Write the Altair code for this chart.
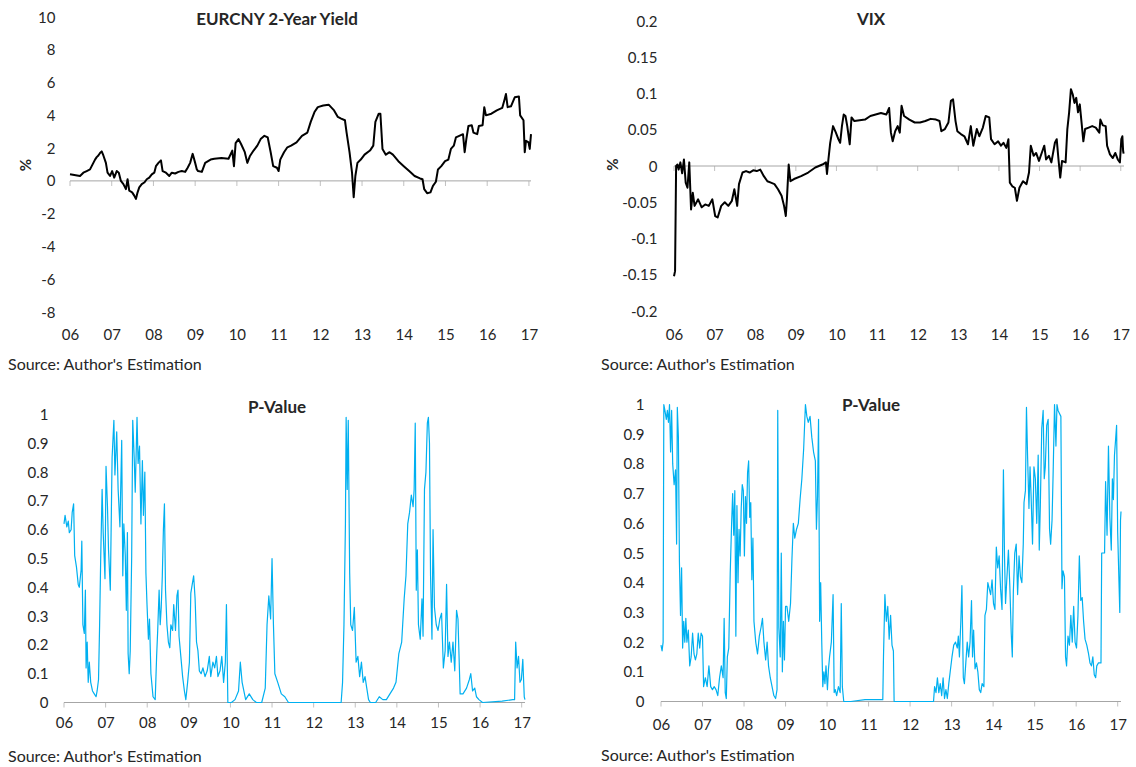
import altair as alt
import pandas as pd

# ---------------- data ----------------
YEAR_TICKS = list(range(2006, 2018))
YEAR_LABELS = ["06", "07", "08", "09", "10", "11", "12", "13", "14", "15", "16", "17"]

EUR_T = [2006.00, 2006.24, 2006.32, 2006.40, 2006.48, 2006.52, 2006.56, 2006.60, 2006.64, 2006.68,
         2006.72, 2006.76, 2006.80, 2006.86, 2006.90, 2006.96, 2007.01, 2007.06, 2007.12, 2007.17,
         2007.22, 2007.28, 2007.34, 2007.38, 2007.42, 2007.49, 2007.54, 2007.58, 2007.62, 2007.66,
         2007.72, 2007.78, 2007.84, 2007.90, 2007.96, 2008.02, 2008.06, 2008.12, 2008.18, 2008.22,
         2008.30, 2008.38, 2008.44, 2008.52, 2008.60, 2008.68, 2008.76, 2008.82, 2008.88, 2008.94,
         2009.00, 2009.04, 2009.07, 2009.16, 2009.24, 2009.37, 2009.46, 2009.63, 2009.80, 2009.89,
         2009.93, 2009.97, 2010.04, 2010.10, 2010.19, 2010.25, 2010.31, 2010.40, 2010.49, 2010.57,
         2010.66, 2010.74, 2010.81, 2010.87, 2010.96, 2011.00, 2011.04, 2011.13, 2011.21, 2011.30,
         2011.43, 2011.56, 2011.69, 2011.77, 2011.86, 2011.94, 2012.07, 2012.20, 2012.33, 2012.42,
         2012.50, 2012.59, 2012.63, 2012.70, 2012.76, 2012.80, 2012.84, 2012.89, 2012.97, 2013.06,
         2013.19, 2013.27, 2013.32, 2013.40, 2013.44, 2013.49, 2013.57, 2013.66, 2013.74, 2013.87,
         2014.00, 2014.13, 2014.26, 2014.39, 2014.45, 2014.49, 2014.56, 2014.64, 2014.70, 2014.77,
         2014.82, 2014.90, 2014.99, 2015.07, 2015.13, 2015.20, 2015.25, 2015.33, 2015.42, 2015.46,
         2015.50, 2015.55, 2015.63, 2015.67, 2015.76, 2015.80, 2015.89, 2015.93, 2015.97, 2016.10,
         2016.23, 2016.36, 2016.42, 2016.45, 2016.49, 2016.57, 2016.66, 2016.76, 2016.79, 2016.87,
         2016.90, 2016.93, 2016.99, 2017.02, 2017.05]
EUR_V = [0.4, 0.3, 0.5, 0.6, 0.7, 0.9, 1.1, 1.3, 1.45, 1.55,
         1.7, 1.8, 1.55, 1.1, 0.5, 0.3, 0.6, 0.2, 0.6, 0.5,
         0.0, -0.2, -0.5, 0.1, -0.6, -0.7, -0.9, -1.1, -0.7, -0.4,
         -0.2, -0.1, 0.1, 0.2, 0.4, 0.5, 0.9, 1.1, 1.25, 0.6,
         0.5, 0.3, 0.5, 0.45, 0.55, 0.6, 0.55, 0.8, 1.1, 1.65,
         1.1, 0.7, 0.6, 0.55, 1.1, 1.3, 1.35, 1.4, 1.35, 1.85,
         0.9, 2.3, 2.55, 2.25, 1.75, 1.1, 1.5, 1.85, 2.15, 2.55,
         2.75, 2.65, 1.75, 0.9, 0.8, 0.6, 1.3, 1.75, 2.05, 2.15,
         2.35, 2.75, 2.95, 3.6, 4.2, 4.5, 4.6, 4.65, 4.3, 3.9,
         3.8, 3.7, 2.95, 1.75, 0.5, -1.0, 0.3, 1.1, 1.3, 1.6,
         1.85, 2.15, 3.6, 4.1, 4.1, 1.95, 1.6, 1.75, 1.6, 1.2,
         0.9, 0.6, 0.3, 0.15, 0.1, -0.5, -0.75, -0.7, -0.3, -0.05,
         0.7, 0.9, 1.2, 1.3, 1.95, 2.15, 2.65, 2.75, 2.85, 1.75,
         2.55, 3.35, 3.4, 2.95, 2.85, 3.35, 3.4, 4.5, 4.0, 4.1,
         4.3, 4.45, 5.0, 5.3, 4.5, 4.55, 5.1, 5.15, 4.0, 3.7,
         1.75, 2.45, 2.35, 1.95, 2.85]

VIX_T = [2006.000, 2006.026, 2006.052, 2006.087, 2006.114, 2006.157, 2006.201, 2006.245, 2006.288, 2006.332,
         2006.376, 2006.420, 2006.463, 2006.507, 2006.594, 2006.682, 2006.769, 2006.857, 2006.944, 2007.014,
         2007.075, 2007.163, 2007.250, 2007.337, 2007.425, 2007.486, 2007.556, 2007.600, 2007.687, 2007.774,
         2007.862, 2007.949, 2008.037, 2008.124, 2008.212, 2008.299, 2008.386, 2008.474, 2008.561, 2008.649,
         2008.710, 2008.753, 2008.780, 2008.824, 2008.867, 2008.955, 2009.129, 2009.304, 2009.479, 2009.654,
         2009.741, 2009.767, 2009.802, 2009.846, 2009.916, 2009.986, 2010.047, 2010.091, 2010.135, 2010.178,
         2010.222, 2010.266, 2010.327, 2010.371, 2010.441, 2010.572, 2010.703, 2010.834, 2010.965, 2011.096,
         2011.227, 2011.297, 2011.341, 2011.385, 2011.446, 2011.507, 2011.559, 2011.603, 2011.664, 2011.795,
         2011.927, 2012.058, 2012.189, 2012.320, 2012.451, 2012.538, 2012.582, 2012.670, 2012.757, 2012.818,
         2012.871, 2012.932, 2012.976, 2013.063, 2013.150, 2013.238, 2013.308, 2013.369, 2013.456, 2013.517,
         2013.605, 2013.675, 2013.762, 2013.806, 2013.893, 2013.981, 2014.051, 2014.112, 2014.182, 2014.234,
         2014.269, 2014.330, 2014.392, 2014.444, 2014.505, 2014.593, 2014.680, 2014.741, 2014.785, 2014.855,
         2014.916, 2014.986, 2015.073, 2015.117, 2015.161, 2015.231, 2015.292, 2015.379, 2015.423, 2015.467,
         2015.510, 2015.554, 2015.642, 2015.685, 2015.729, 2015.773, 2015.817, 2015.860, 2015.904, 2015.948,
         2015.991, 2016.035, 2016.079, 2016.122, 2016.210, 2016.297, 2016.385, 2016.472, 2016.498, 2016.559,
         2016.629, 2016.664, 2016.734, 2016.804, 2016.865, 2016.927, 2016.979, 2017.014, 2017.040, 2017.058,
         2017.070]
VIX_V = [-0.152, -0.145, 0.0, 0.002, -0.005, 0.005, -0.01, 0.009, -0.023, -0.03,
         0.005, -0.06, -0.037, -0.055, -0.046, -0.057, -0.053, -0.055, -0.046, -0.069,
         -0.071, -0.055, -0.05, -0.055, -0.048, -0.032, -0.055, -0.025, -0.009, -0.007,
         -0.009, -0.006, -0.007, -0.005, -0.014, -0.021, -0.023, -0.025, -0.032, -0.041,
         -0.055, -0.069, -0.046, 0.002, -0.021, -0.018, -0.014, -0.009, -0.002, 0.002,
         0.005, -0.011, 0.009, 0.032, 0.055, 0.046, 0.037, 0.032, 0.055, 0.071,
         0.069, 0.055, 0.03, 0.067, 0.062, 0.063, 0.064, 0.069, 0.071, 0.073,
         0.071, 0.08, 0.046, 0.034, 0.048, 0.055, 0.046, 0.083, 0.069, 0.064,
         0.06, 0.06, 0.062, 0.065, 0.064, 0.062, 0.048, 0.051, 0.06, 0.09,
         0.092, 0.062, 0.048, 0.044, 0.041, 0.03, 0.055, 0.028, 0.051, 0.041,
         0.053, 0.069, 0.067, 0.037, 0.03, 0.034, 0.028, 0.032, 0.025, 0.037,
         -0.023, -0.028, -0.03, -0.048, -0.03, -0.021, -0.025, -0.009, 0.028, 0.014,
         0.018, 0.007, 0.021, 0.028, 0.009, 0.014, 0.005, 0.032, 0.037, 0.009,
         -0.016, 0.007, 0.005, 0.051, 0.074, 0.106, 0.099, 0.087, 0.094, 0.074,
         0.085, 0.06, 0.034, 0.051, 0.053, 0.055, 0.053, 0.046, 0.064, 0.056,
         0.055, 0.028, 0.016, 0.011, 0.018, 0.009, 0.005, 0.037, 0.041, 0.021,
         0.017]

PV1_T = [2006.000, 2006.026, 2006.068, 2006.103, 2006.128, 2006.171, 2006.197, 2006.231, 2006.257, 2006.300,
         2006.342, 2006.368, 2006.411, 2006.428, 2006.454, 2006.488, 2006.514, 2006.531, 2006.557, 2006.582,
         2006.608, 2006.642, 2006.685, 2006.728, 2006.771, 2006.796, 2006.830, 2006.856, 2006.882, 2006.916,
         2006.942, 2006.985, 2007.010, 2007.045, 2007.070, 2007.113, 2007.156, 2007.199, 2007.224, 2007.267,
         2007.301, 2007.344, 2007.387, 2007.413, 2007.438, 2007.473, 2007.498, 2007.524, 2007.541, 2007.567,
         2007.592, 2007.627, 2007.652, 2007.687, 2007.712, 2007.755, 2007.781, 2007.815, 2007.849, 2007.884,
         2007.909, 2007.943, 2007.969, 2007.995, 2008.029, 2008.055, 2008.089, 2008.140, 2008.192, 2008.226,
         2008.252, 2008.286, 2008.312, 2008.337, 2008.363, 2008.389, 2008.414, 2008.440, 2008.474, 2008.509,
         2008.543, 2008.568, 2008.611, 2008.637, 2008.680, 2008.714, 2008.740, 2008.765, 2008.808, 2008.851,
         2008.894, 2008.928, 2008.971, 2009.014, 2009.048, 2009.082, 2009.116, 2009.151, 2009.185, 2009.219,
         2009.253, 2009.296, 2009.339, 2009.390, 2009.442, 2009.493, 2009.527, 2009.579, 2009.622, 2009.664,
         2009.699, 2009.750, 2009.793, 2009.836, 2009.878, 2009.904, 2009.938, 2010.024, 2010.110, 2010.195,
         2010.238, 2010.281, 2010.366, 2010.452, 2010.538, 2010.623, 2010.752, 2010.837, 2010.880, 2010.923,
         2010.966, 2011.000, 2011.034, 2011.068, 2011.137, 2011.223, 2011.308, 2011.394, 2012.661, 2012.695,
         2012.729, 2012.764, 2012.781, 2012.807, 2012.832, 2012.866, 2012.892, 2012.935, 2012.978, 2013.021,
         2013.063, 2013.106, 2013.149, 2013.192, 2013.235, 2013.277, 2013.320, 2013.363, 2013.491, 2013.577,
         2013.663, 2013.748, 2013.834, 2013.920, 2013.979, 2014.048, 2014.116, 2014.176, 2014.219, 2014.262,
         2014.305, 2014.348, 2014.390, 2014.416, 2014.442, 2014.467, 2014.493, 2014.519, 2014.562, 2014.604,
         2014.630, 2014.664, 2014.699, 2014.733, 2014.758, 2014.784, 2014.810, 2014.844, 2014.870, 2014.904,
         2014.947, 2014.990, 2015.033, 2015.075, 2015.118, 2015.161, 2015.195, 2015.229, 2015.264, 2015.307,
         2015.349, 2015.392, 2015.435, 2015.469, 2015.521, 2015.589, 2015.675, 2015.743, 2015.777, 2015.820,
         2015.872, 2015.913, 2015.973, 2016.060, 2016.531, 2016.788, 2016.830, 2016.856, 2016.890, 2016.925,
         2016.959, 2016.993, 2017.027, 2017.062, 2017.079]
PV1_V = [0.62, 0.65, 0.61, 0.63, 0.59, 0.60, 0.66, 0.69, 0.51, 0.47,
         0.41, 0.40, 0.46, 0.56, 0.27, 0.24, 0.39, 0.12, 0.21, 0.07,
         0.14, 0.07, 0.04, 0.03, 0.02, 0.04, 0.08, 0.27, 0.50, 0.74,
         0.59, 0.43, 0.82, 0.68, 0.53, 0.39, 0.85, 0.98, 0.79, 0.94,
         0.74, 0.61, 0.91, 0.44, 0.62, 0.51, 0.32, 0.59, 0.17, 0.10,
         0.18, 0.51, 0.98, 0.85, 0.73, 0.99, 0.83, 0.89, 0.62, 0.84,
         0.65, 0.80, 0.45, 0.34, 0.22, 0.29, 0.10, 0.02, 0.01, 0.16,
         0.25, 0.39, 0.27, 0.33, 0.44, 0.60, 0.69, 0.39, 0.27, 0.21,
         0.19, 0.27, 0.25, 0.34, 0.25, 0.37, 0.39, 0.23, 0.16, 0.09,
         0.04, 0.01, 0.07, 0.14, 0.38, 0.41, 0.44, 0.36, 0.21, 0.18,
         0.11, 0.10, 0.12, 0.09, 0.11, 0.16, 0.09, 0.14, 0.12, 0.16,
         0.09, 0.11, 0.16, 0.07, 0.14, 0.34, 0.0, 0.0, 0.01, 0.04,
         0.14, 0.07, 0.01, 0.03, 0.01, 0.0, 0.0, 0.05, 0.27, 0.37,
         0.29, 0.50, 0.27, 0.10, 0.07, 0.03, 0.02, 0.0, 0.0, 0.07,
         0.27, 0.62, 0.99, 0.74, 0.98, 0.45, 0.27, 0.25, 0.33, 0.14,
         0.16, 0.09, 0.14, 0.07, 0.09, 0.05, 0.01, 0.0, 0.0, 0.02,
         0.01, 0.01, 0.03, 0.05, 0.07, 0.17, 0.21, 0.36, 0.44, 0.62,
         0.66, 0.72, 0.68, 0.74, 0.97, 0.39, 0.53, 0.27, 0.22, 0.36,
         0.23, 0.74, 0.80, 0.97, 0.99, 0.90, 0.44, 0.22, 0.60, 0.33,
         0.27, 0.25, 0.29, 0.31, 0.12, 0.18, 0.41, 0.16, 0.21, 0.14,
         0.21, 0.11, 0.32, 0.29, 0.03, 0.03, 0.05, 0.08, 0.10, 0.04,
         0.05, 0.02, 0.01, 0.0, 0.005, 0.01, 0.01, 0.21, 0.12, 0.16,
         0.07, 0.08, 0.15, 0.02, 0.01]

PV2_T = [2006.000, 2006.026, 2006.051, 2006.068, 2006.094, 2006.128, 2006.154, 2006.179, 2006.205, 2006.231,
         2006.256, 2006.282, 2006.316, 2006.350, 2006.376, 2006.393, 2006.419, 2006.444, 2006.470, 2006.496,
         2006.521, 2006.547, 2006.573, 2006.598, 2006.624, 2006.658, 2006.692, 2006.726, 2006.761, 2006.795,
         2006.829, 2006.863, 2006.897, 2006.932, 2006.966, 2007.000, 2007.026, 2007.068, 2007.111, 2007.154,
         2007.197, 2007.239, 2007.282, 2007.325, 2007.368, 2007.410, 2007.453, 2007.496, 2007.521, 2007.547,
         2007.573, 2007.598, 2007.632, 2007.667, 2007.701, 2007.726, 2007.752, 2007.778, 2007.803, 2007.829,
         2007.855, 2007.880, 2007.906, 2007.932, 2007.957, 2007.983, 2008.009, 2008.034, 2008.060, 2008.085,
         2008.111, 2008.137, 2008.162, 2008.188, 2008.214, 2008.239, 2008.282, 2008.325, 2008.368, 2008.410,
         2008.444, 2008.479, 2008.521, 2008.556, 2008.590, 2008.632, 2008.675, 2008.718, 2008.761, 2008.795,
         2008.812, 2008.838, 2008.872, 2008.897, 2008.923, 2008.949, 2008.974, 2009.000, 2009.034, 2009.077,
         2009.120, 2009.154, 2009.188, 2009.222, 2009.265, 2009.308, 2009.350, 2009.393, 2009.436, 2009.479,
         2009.513, 2009.547, 2009.590, 2009.632, 2009.675, 2009.718, 2009.744, 2009.769, 2009.795, 2009.821,
         2009.846, 2009.872, 2009.897, 2009.923, 2009.949, 2009.974, 2010.009, 2010.034, 2010.060, 2010.103,
         2010.145, 2010.171, 2010.197, 2010.231, 2010.274, 2010.316, 2010.342, 2010.368, 2010.402, 2010.573,
         2010.915, 2011.342, 2011.359, 2011.393, 2011.427, 2011.462, 2011.496, 2011.530, 2011.564, 2011.598,
         2011.615, 2012.026, 2012.564, 2012.590, 2012.624, 2012.658, 2012.692, 2012.726, 2012.761, 2012.795,
         2012.829, 2012.863, 2012.897, 2012.932, 2012.966, 2013.009, 2013.051, 2013.094, 2013.137, 2013.162,
         2013.188, 2013.222, 2013.248, 2013.282, 2013.308, 2013.342, 2013.376, 2013.410, 2013.444, 2013.479,
         2013.504, 2013.530, 2013.564, 2013.598, 2013.632, 2013.667, 2013.701, 2013.735, 2013.778, 2013.803,
         2013.838, 2013.872, 2013.906, 2013.940, 2013.974, 2014.009, 2014.043, 2014.077, 2014.111, 2014.145,
         2014.179, 2014.214, 2014.248, 2014.274, 2014.299, 2014.333, 2014.368, 2014.402, 2014.436, 2014.462,
         2014.487, 2014.521, 2014.556, 2014.590, 2014.624, 2014.658, 2014.692, 2014.726, 2014.744, 2014.778,
         2014.803, 2014.829, 2014.863, 2014.889, 2014.915, 2014.949, 2014.983, 2015.017, 2015.051, 2015.085,
         2015.111, 2015.137, 2015.171, 2015.205, 2015.231, 2015.256, 2015.291, 2015.325, 2015.359, 2015.385,
         2015.419, 2015.444, 2015.479, 2015.513, 2015.538, 2015.564, 2015.598, 2015.632, 2015.658, 2015.684,
         2015.718, 2015.744, 2015.769, 2015.803, 2015.838, 2015.872, 2015.906, 2015.940, 2015.974, 2016.009,
         2016.043, 2016.077, 2016.111, 2016.145, 2016.179, 2016.214, 2016.256, 2016.299, 2016.333, 2016.368,
         2016.402, 2016.436, 2016.470, 2016.496, 2016.538, 2016.598, 2016.615, 2016.684, 2016.709, 2016.744,
         2016.778, 2016.812, 2016.846, 2016.872, 2016.897, 2016.923, 2016.949, 2016.974, 2017.000, 2017.026,
         2017.051, 2017.068, 2017.080]
PV2_V = [0.19, 0.17, 0.20, 1.0, 0.98, 0.95, 0.98, 0.94, 1.0, 0.84,
         0.98, 0.80, 0.73, 0.78, 0.53, 0.99, 0.89, 0.47, 0.29, 0.45,
         0.18, 0.27, 0.20, 0.28, 0.20, 0.24, 0.12, 0.15, 0.23, 0.16,
         0.14, 0.16, 0.23, 0.18, 0.23, 0.22, 0.05, 0.08, 0.05, 0.12,
         0.05, 0.04, 0.05, 0.04, 0.02, 0.08, 0.12, 0.08, 0.28, 0.03,
         0.01, 0.15, 0.18, 0.43, 0.60, 0.70, 0.56, 0.71, 0.22, 0.66,
         0.40, 0.58, 0.49, 0.65, 0.73, 0.71, 0.49, 0.69, 0.60, 0.77,
         0.81, 0.62, 0.67, 0.41, 0.55, 0.27, 0.20, 0.16, 0.22, 0.25,
         0.28, 0.20, 0.14, 0.20, 0.12, 0.08, 0.05, 0.02, 0.01, 0.04,
         0.98, 0.25, 0.15, 0.50, 0.10, 0.27, 0.14, 0.32, 0.32, 0.27,
         0.33, 0.48, 0.60, 0.55, 0.58, 0.60, 0.68, 0.75, 0.85, 1.0,
         0.96, 0.94, 0.96, 0.89, 0.84, 0.81, 0.58, 0.69, 0.95, 0.27,
         0.40, 0.20, 0.05, 0.10, 0.06, 0.12, 0.04, 0.11, 0.15, 0.20,
         0.36, 0.03, 0.04, 0.02, 0.05, 0.03, 0.33, 0.05, 0.0, 0.0,
         0.006, 0.006, 0.15, 0.36, 0.27, 0.32, 0.21, 0.29, 0.19, 0.17,
         0.0, 0.0, 0.0, 0.05, 0.03, 0.08, 0.03, 0.06, 0.02, 0.08,
         0.01, 0.04, 0.01, 0.06, 0.10, 0.15, 0.19, 0.20, 0.18, 0.22,
         0.15, 0.27, 0.39, 0.08, 0.06, 0.13, 0.20, 0.15, 0.20, 0.34,
         0.15, 0.24, 0.11, 0.13, 0.10, 0.04, 0.03, 0.06, 0.05, 0.29,
         0.31, 0.40, 0.38, 0.36, 0.41, 0.33, 0.31, 0.52, 0.45, 0.49,
         0.38, 0.31, 0.78, 0.49, 0.33, 0.42, 0.51, 0.39, 0.23, 0.15,
         0.37, 0.50, 0.53, 0.36, 0.49, 0.42, 0.40, 0.53, 0.67, 0.71,
         0.99, 0.83, 0.65, 0.79, 0.69, 0.53, 0.79, 0.75, 0.60, 0.83,
         0.51, 0.66, 0.92, 0.98, 0.75, 0.79, 0.93, 0.95, 0.58, 0.53,
         0.61, 0.76, 1.0, 0.86, 1.0, 0.98, 0.97, 0.96, 0.38, 0.44,
         0.42, 0.15, 0.12, 0.22, 0.19, 0.29, 0.20, 0.32, 0.20, 0.18,
         0.29, 0.49, 0.34, 0.35, 0.27, 0.21, 0.19, 0.16, 0.13, 0.12,
         0.15, 0.09, 0.08, 0.12, 0.13, 0.13, 0.50, 0.50, 0.74, 0.56,
         0.86, 0.62, 0.51, 0.75, 0.68, 0.83, 0.88, 0.93, 0.57, 0.43,
         0.30, 0.61, 0.64]

# ---------------- style ----------------
FONT = "Lato"
TEXT = "#262626"
AXIS_GRAY = "#a6a6a6"
BLUE = "#00B0F0"
SOURCE = "Source: Author's Estimation"
X_LABEL_EXPR = "[" + ",".join("'%s'" % s for s in YEAR_LABELS) + "][datum.value - 2006]"
Y_LABEL_EXPR = "replace(datum.label, '\u2212', '-')"


def panel(t, v, *, xmax, xrange, width, ydom, yrange, height, yvalues, line_color, line_width,
          title, title_pos, src_pos, xpad, ypad, ytitle_x=None):
    xs = alt.Scale(domain=[2006, xmax], range=xrange, nice=False, zero=False)
    ys = alt.Scale(domain=ydom, range=yrange, nice=False, zero=False)
    xaxis = alt.Axis(values=YEAR_TICKS, labelExpr=X_LABEL_EXPR, domain=False, ticks=False, grid=False,
                     labelFont=FONT, labelFontSize=15, labelColor=TEXT, labelPadding=xpad,
                     labelBaseline="middle", labelFlush=False, labelOverlap=False, title=None)
    yargs = dict(values=yvalues, format="~r", labelExpr=Y_LABEL_EXPR, domain=False, ticks=False,
                 grid=False, labelFont=FONT, labelFontSize=15, labelColor=TEXT, labelPadding=ypad,
                 labelOverlap=False, labelFlush=False)
    if ytitle_x is not None:
        yargs.update(title="%", titleFont=FONT, titleFontSize=15, titleFontWeight="bold",
                     titleColor=TEXT, titleAngle=270, titleX=ytitle_x, titleY=height / 2,
                     titleAlign="center", titleBaseline="middle")
    else:
        yargs.update(title=None)
    yaxis = alt.Axis(**yargs)

    xenc = alt.X("t:Q", scale=xs, axis=xaxis)
    yenc = alt.Y("v:Q", scale=ys, axis=yaxis)

    line_df = pd.DataFrame({"t": t, "v": v})
    zero_df = pd.DataFrame({"t": [2006], "t2": [xmax], "v": [0]})
    tick_df = pd.DataFrame({"t": YEAR_TICKS, "v": [0] * len(YEAR_TICKS)})
    one = pd.DataFrame({"t": [2006], "v": [0]})

    zero = alt.Chart(zero_df).mark_rule(color=AXIS_GRAY, strokeWidth=1).encode(x=xenc, x2="t2:Q", y=yenc)
    ticks = alt.Chart(tick_df).mark_tick(orient="vertical", size=5, yOffset=2.5, thickness=1,
                                         color=AXIS_GRAY).encode(x=xenc, y=yenc)
    line = alt.Chart(line_df).mark_line(color=line_color, strokeWidth=line_width,
                                        strokeJoin="round").encode(x=xenc, y=yenc)
    ttl = alt.Chart(one).mark_text(text=title, font=FONT, fontSize=17, fontWeight="bold", color=TEXT,
                                   align="center", baseline="middle").encode(
        x=alt.value(title_pos[0]), y=alt.value(title_pos[1]))
    src = alt.Chart(one).mark_text(text=SOURCE, font=FONT, fontSize=16, color=TEXT,
                                   align="left", baseline="middle").encode(
        x=alt.value(src_pos[0]), y=alt.value(src_pos[1]))
    return alt.layer(zero, ticks, line, ttl, src).properties(width=width, height=height)


p1 = panel(EUR_T, EUR_V, xmax=2017.05, xrange=[6, 467], width=467,
           ydom=[-8, 10], yrange=[295, 0], height=295, yvalues=[-8, -6, -4, -2, 0, 2, 4, 6, 8, 10],
           line_color="black", line_width=2, title="EURCNY 2-Year Yield", title_pos=(213, 3),
           src_pos=(-56, 348), xpad=22, ypad=9, ytitle_x=-39)
p2 = panel(VIX_T, VIX_V, xmax=2017.08, xrange=[0, 450], width=450,
           ydom=[-0.2, 0.2], yrange=[294, 4], height=294,
           yvalues=[-0.2, -0.15, -0.1, -0.05, 0, 0.05, 0.1, 0.15, 0.2],
           line_color="black", line_width=2, title="VIX", title_pos=(197, 3),
           src_pos=(-73, 348), xpad=23, ypad=17, ytitle_x=-62)
p3 = panel(PV1_T, PV1_V, xmax=2017.08, xrange=[0, 461], width=461,
           ydom=[0, 1], yrange=[298, 10], height=298,
           yvalues=[0, 0.1, 0.2, 0.3, 0.4, 0.5, 0.6, 0.7, 0.8, 0.9, 1],
           line_color=BLUE, line_width=1.2, title="P-Value", title_pos=(213, 3),
           src_pos=(-56, 352), xpad=20, ypad=16)
p4 = panel(PV2_T, PV2_V, xmax=2017.08, xrange=[0, 460], width=460,
           ydom=[0, 1], yrange=[297, 0], height=297,
           yvalues=[0, 0.1, 0.2, 0.3, 0.4, 0.5, 0.6, 0.7, 0.8, 0.9, 1],
           line_color=BLUE, line_width=1.2, title="P-Value", title_pos=(210, 1),
           src_pos=(-60, 351), xpad=23, ypad=17)

chart = alt.vconcat(
    alt.hconcat(p1, p2, spacing=63),
    alt.hconcat(p3, p4, spacing=70),
    spacing=23.5,
).properties(
    padding={"left": 8, "top": 10, "right": 0, "bottom": 0},
    background="white",
).configure_view(stroke=None)

chart.save("out.html", embed_options={"renderer": "svg", "actions": False})
